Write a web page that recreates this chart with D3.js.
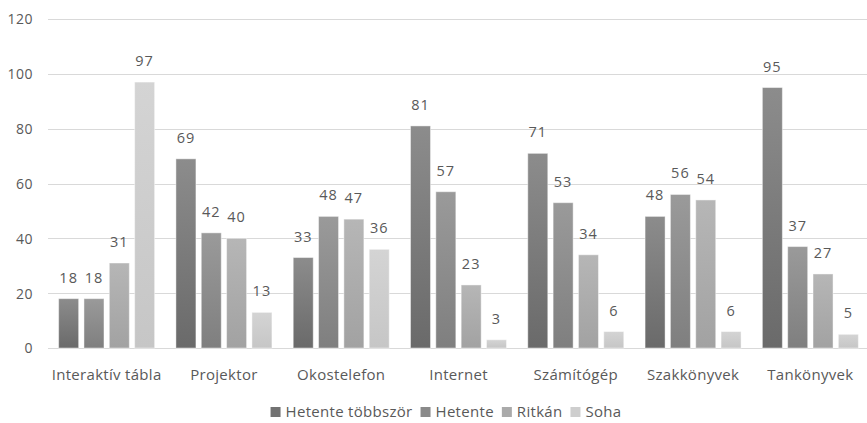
<!DOCTYPE html>
<html>
<head>
<meta charset="utf-8">
<script src="https://cdn.jsdelivr.net/npm/d3@7"></script>
<style>
  html, body { margin: 0; padding: 0; background: #ffffff; }
  svg { display: block; font-family: "Open Sans", "Noto Sans", sans-serif; }
</style>
</head>
<body>
<svg id="chart" width="867" height="423"></svg>
<script>
// Eszközök használati gyakorisága
const categories = ["Interaktív tábla", "Projektor", "Okostelefon", "Internet", "Számítógép", "Szakkönyvek", "Tankönyvek"];
const seriesNames = ["Hetente többször", "Hetente", "Ritkán", "Soha"];
const hetenteTobbszor = [18, 69, 33, 81, 71, 48, 95];
const hetente = [18, 42, 48, 57, 53, 56, 37];
const ritkan = [31, 40, 47, 23, 34, 54, 27];
const soha = [97, 13, 36, 3, 6, 6, 5];
const yTicks = [0, 20, 40, 60, 80, 100, 120];

const seriesValues = [hetenteTobbszor, hetente, ritkan, soha];
const seriesTop = ["#8c8c8c", "#9a9a9a", "#b6b6b6", "#d4d4d4"];
const seriesBottom = ["#6a6a6a", "#7f7f7f", "#a2a2a2", "#c6c6c6"];
const legendColors = ["#727272", "#8a8a8a", "#aaaaaa", "#cecece"];

const svg = d3.select("#chart");
const W = 867;
const plot = { left: 48, right: 869, top: 19, bottom: 348 };

const y = d3.scaleLinear().domain([0, 120]).range([plot.bottom, plot.top]);
const x0 = d3.scaleBand().domain(categories).range([plot.left, plot.right]).paddingInner(0).paddingOuter(0);
const x1 = d3.scaleBand().domain(d3.range(4)).range([0, x0.bandwidth()]).paddingInner(0.21).paddingOuter(0.42);

// Gradients (lighter at the top, darker at the bottom of every bar)
const defs = svg.append("defs");
seriesNames.forEach((s, i) => {
  const g = defs.append("linearGradient").attr("id", "grad" + i)
    .attr("x1", 0).attr("y1", 0).attr("x2", 0).attr("y2", 1);
  g.append("stop").attr("offset", "0%").attr("stop-color", seriesTop[i]);
  g.append("stop").attr("offset", "100%").attr("stop-color", seriesBottom[i]);
});

// Gridlines
svg.append("g").selectAll("line").data(yTicks).join("line")
  .attr("x1", plot.left).attr("x2", W)
  .attr("y1", d => Math.round(y(d)) + 0.5).attr("y2", d => Math.round(y(d)) + 0.5)
  .attr("stroke", "#d9d9d9").attr("stroke-width", 1);

// Y axis labels
const yAxis = d3.axisLeft(y).tickValues(yTicks).tickSize(0).tickPadding(0);
const yg = svg.append("g").attr("transform", "translate(33,0)").call(yAxis);
yg.select(".domain").remove();
yg.selectAll("text").attr("fill", "#595959").style("font-size", "14px")
  .style("letter-spacing", "0.5px")
  .style("font-family", "'Open Sans', 'Noto Sans', sans-serif").attr("dy", "0.35em");

// Bars
const groups = svg.append("g").selectAll("g").data(categories).join("g")
  .attr("transform", d => `translate(${x0(d)},0)`);

groups.each(function(cat, ci) {
  const g = d3.select(this);
  seriesValues.forEach((vals, si) => {
    const v = vals[ci];
    g.append("rect")
      .attr("x", x1(si))
      .attr("y", y(v))
      .attr("width", x1.bandwidth())
      .attr("height", y(0) - y(v))
      .attr("fill", `url(#grad${si})`)
      .attr("stroke", "rgba(255,255,255,0.45)")
      .attr("stroke-width", 1);
    g.append("text")
      .attr("x", x1(si) + x1.bandwidth() / 2)
      .attr("y", y(v) - 16)
      .attr("text-anchor", "middle")
      .attr("fill", "#595959")
      .style("font-size", "14.5px")
      .style("letter-spacing", "1px")
      .text(v);
  });
});

// Category axis labels
const xAxis = d3.axisBottom(x0).tickSize(0).tickPadding(0);
const xg = svg.append("g").attr("transform", `translate(0,${plot.bottom + 24})`).call(xAxis);
xg.select(".domain").remove();
xg.selectAll("text").attr("fill", "#595959").style("font-size", "15px")
  .style("letter-spacing", "0.3px")
  .style("font-family", "'Open Sans', 'Noto Sans', sans-serif").attr("dy", "0.5em");

// Legend
const legend = svg.append("g");
let lx = 0;
seriesNames.forEach((s, i) => {
  const item = legend.append("g").attr("transform", `translate(${lx},0)`);
  item.append("rect").attr("x", 0).attr("y", -5).attr("width", 10).attr("height", 10)
    .attr("fill", legendColors[i]);
  const t = item.append("text").attr("x", 15).attr("y", 0).attr("dy", "0.35em")
    .attr("fill", "#595959").style("font-size", "15px").style("letter-spacing", "0.3px").text(s);
  lx += 15 + t.node().getComputedTextLength() + 8;
});
const legendWidth = lx - 8;
legend.attr("transform", `translate(${446 - legendWidth / 2},412)`);
</script>
</body>
</html>
